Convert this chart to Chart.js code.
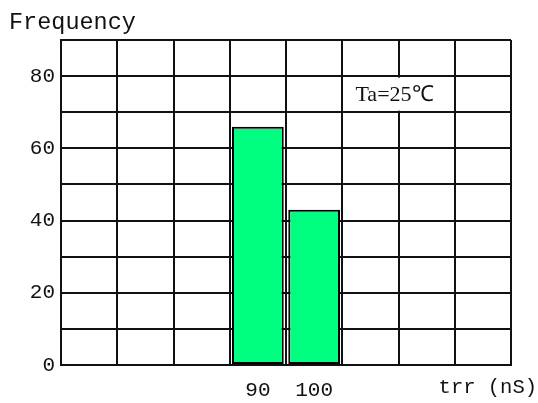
<!DOCTYPE html>
<html>
<head>
<meta charset="utf-8">
<script src="https://cdn.jsdelivr.net/npm/chart.js@4/dist/chart.umd.min.js"></script>
<style>
  body { margin: 0; background: #fff; }
</style>
</head>
<body>
<canvas id="hist" width="538" height="403"></canvas>
<script>
let categories = ["", "", "", "90", "100", "", "", ""];
let frequency = [null, null, null, 66, 43, null, null, null];
let yTicks = [0, 20, 40, 60, 80];
let yTitle = "Frequency";
let xTitle = "trr (nS)";
let note = "Ta=25\u2103";

let mono = "'Liberation Mono', 'DejaVu Sans Mono', monospace";

let textPlugin = {
  id: "texts",
  afterDraw: (chart) => {
    let c = chart.ctx;
    let xs = chart.scales.x;
    let ys = chart.scales.y;
    c.save();
    c.fillStyle = "#111";
    c.textBaseline = "middle";
    c.font = "23.5px " + mono;
    c.textAlign = "left";
    c.fillText(yTitle, 9, 23);
    c.font = "20.5px " + mono;
    c.textAlign = "right";
    c.fillText(xTitle, 537, 388);

    // note box covering two cells
    let left = (xs.getPixelForValue(4) + xs.getPixelForValue(5)) / 2;
    let right = (xs.getPixelForValue(6) + xs.getPixelForValue(7)) / 2;
    let mid = (xs.getPixelForValue(5) + xs.getPixelForValue(6)) / 2;
    let top = ys.getPixelForValue(80);
    let bottom = ys.getPixelForValue(70);
    c.fillStyle = "#fff";
    c.fillRect(left + 1.5, top + 1.5, right - left - 3, bottom - top - 3);
    c.fillStyle = "#111";
    c.font = "22px 'Liberation Serif', serif";
    c.textAlign = "center";
    c.fillText(note, mid - 4, ys.getPixelForValue(75) + 1);
    c.restore();
  },
};

let ctx = document.getElementById("hist").getContext("2d");
let hist = new Chart(ctx, {
  type: "bar",
  data: {
    labels: categories,
    datasets: [
      {
        data: frequency,
        backgroundColor: "#00ff80",
        borderColor: "#000",
        borderWidth: 2,
        borderSkipped: false,
        categoryPercentage: 1,
        barPercentage: 0.92,
      },
    ],
  },
  options: {
    responsive: false,
    animation: false,
    layout: {
      padding: { top: 40, right: 27, left: 0, bottom: 0 },
    },
    plugins: {
      legend: { display: false },
      tooltip: { enabled: false },
    },
    scales: {
      x: {
        offset: true,
        grid: {
          offset: true,
          color: "#111",
          lineWidth: 2,
          drawTicks: false,
        },
        border: { color: "#111", width: 2 },
        ticks: {
          color: "#111",
          padding: 13,
          maxRotation: 0,
          autoSkip: false,
          font: { family: mono, size: 21 },
        },
        afterFit: (scale) => {
          scale.height = 38;
        },
      },
      y: {
        min: 0,
        max: 90,
        grid: {
          color: "#111",
          lineWidth: 2,
          drawTicks: false,
        },
        border: { color: "#111", width: 2 },
        ticks: {
          stepSize: 10,
          color: "#111",
          padding: 6,
          font: { family: mono, size: 21 },
          callback: (value) => (yTicks.includes(value) ? value : ""),
        },
        afterFit: (scale) => {
          scale.width = 61;
        },
      },
    },
  },
  plugins: [textPlugin],
});
</script>
</body>
</html>
